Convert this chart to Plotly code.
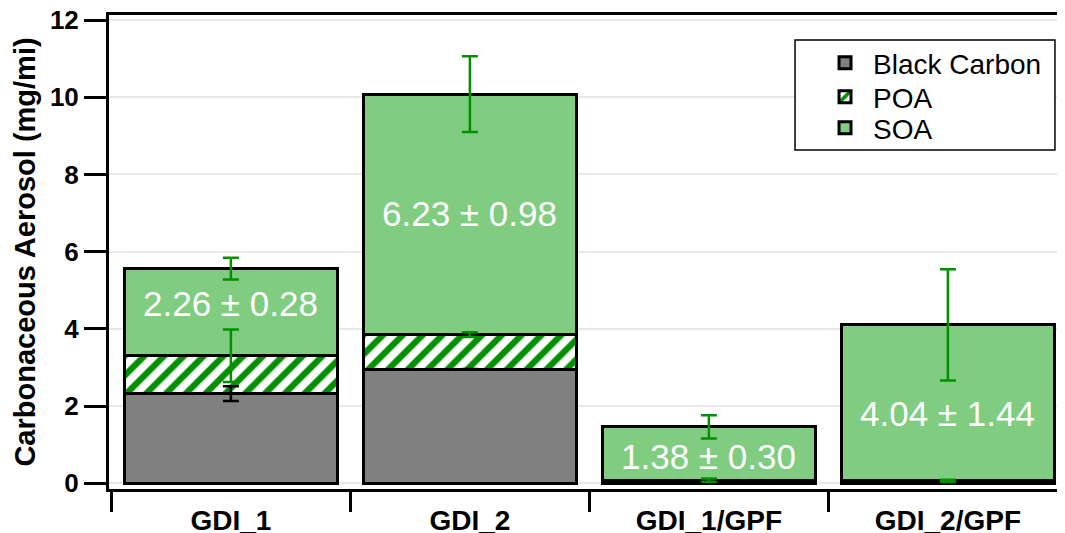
import numpy as np
import plotly.graph_objects as go

categories = ["GDI_1", "GDI_2", "GDI_1/GPF", "GDI_2/GPF"]
bc = [2.32, 2.95, 0.05, 0.04]
poa = [0.98, 0.90, 0.03, 0.02]
soa = [2.26, 6.23, 1.38, 4.04]
bc_err = [0.19, 0.01, 0.02, 0.02]
poa_err = [0.68, 0.06, 0.04, 0.03]
soa_err = [0.28, 0.98, 0.30, 1.44]
soa_labels = ["2.26 ± 0.28", "6.23 ± 0.98", "1.38 ± 0.30", "4.04 ± 1.44"]
label_y = [4.66, 6.99, 0.70, 1.81]

FONT = "Liberation Sans, Arial, sans-serif"
GREEN_DARK = "#009000"
SOA_FILL = "#80CC80"
BC_FILL = "#808080"

fig = go.Figure()
line = dict(color="black", width=3)
fig.add_trace(go.Bar(x=categories, y=bc, name="Black Carbon", legend="legend",
                     marker=dict(color=BC_FILL, line=line)))
fig.add_trace(go.Bar(x=categories, y=poa, name="POA", legend="legend2",
                     marker=dict(color="white", line=line,
                                 pattern=dict(shape="/", fgcolor=GREEN_DARK, bgcolor="white",
                                              fgopacity=1, size=14, solidity=0.45,
                                              fillmode="replace"))))
fig.add_trace(go.Bar(x=categories, y=soa, name="SOA", legend="legend3",
                     marker=dict(color=SOA_FILL, line=line)))

c1 = np.array(bc)
c2 = c1 + np.array(poa)
c3 = c2 + np.array(soa)
for yy, err, col in [(c1, bc_err, "black"), (c2, poa_err, GREEN_DARK), (c3, soa_err, GREEN_DARK)]:
    fig.add_trace(go.Scatter(x=categories, y=yy, mode="markers",
                             marker=dict(size=0.1, color="rgba(0,0,0,0)"),
                             error_y=dict(type="data", array=err, color=col, thickness=2.5, width=8),
                             showlegend=False, hoverinfo="skip"))

for cat, ly, txt in zip(categories, label_y, soa_labels):
    fig.add_annotation(x=cat, y=ly, text=txt, showarrow=False,
                       font=dict(family=FONT, size=35, color="white"))

# legend frame
fig.add_shape(type="rect", xref="paper", yref="paper",
              x0=0.7176, x1=0.9895, y0=0.7152, y1=0.9473,
              line=dict(color="black", width=1.5), fillcolor="white", layer="above")

leg_common = dict(x=0.7176, xanchor="left", yanchor="middle", borderwidth=0,
                  bgcolor="rgba(0,0,0,0)", indentation=22, itemwidth=46,
                  font=dict(family=FONT, size=28, color="black"))

fig.update_layout(
    width=1057, height=525,
    barmode="stack", bargap=0.11,
    plot_bgcolor="white", paper_bgcolor="white",
    margin=dict(l=101, r=0, t=7, b=44),
    font=dict(family=FONT, color="black"),
    legend=dict(y=0.8987, **leg_common),
    legend2=dict(y=0.827, **leg_common),
    legend3=dict(y=0.7616, **leg_common),
    showlegend=True,
)
fig.update_xaxes(range=[-0.51, 3.49], showline=True, linecolor="black", linewidth=3,
                 mirror=True, ticks="outside", tickson="boundaries", ticklen=20,
                 tickwidth=3, tickcolor="black", showgrid=False, ticklabelstandoff=4,
                 tickfont=dict(family=FONT, size=28, color="black", weight="bold"),
                 automargin=False)
fig.update_yaxes(range=[-0.15, 12.13], tickvals=[0, 2, 4, 6, 8, 10, 12],
                 showline=True, linecolor="black", linewidth=3, mirror=False,
                 ticks="outside", ticklen=22, tickwidth=3, tickcolor="black",
                 showgrid=True, gridcolor="#e8e8e8", gridwidth=1.5, zeroline=False,
                 ticklabeloverflow="allow",
                 tickfont=dict(family=FONT, size=26, color="black", weight="bold"),
                 title=dict(text="Carbonaceous Aerosol (mg/mi)", standoff=6,
                            font=dict(family=FONT, size=29, color="black", weight="bold")),
                 automargin=False)

fig.write_html("out.html")
